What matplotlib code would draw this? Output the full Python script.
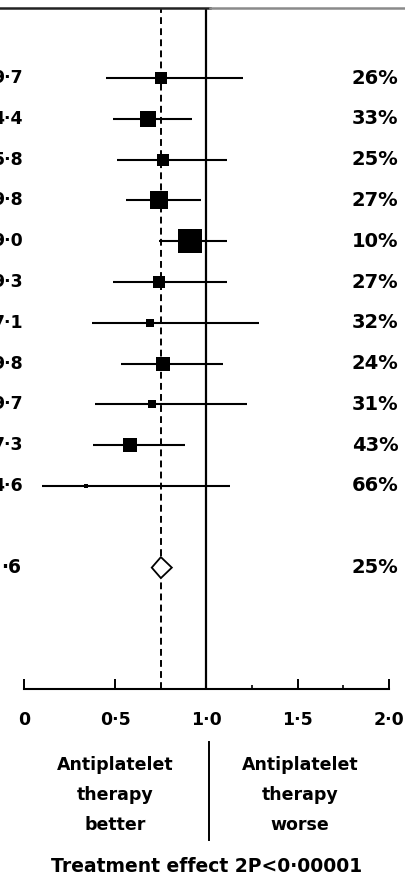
import matplotlib
matplotlib.use("Agg")
import matplotlib.pyplot as plt
from matplotlib.lines import Line2D
from matplotlib.patches import Polygon

# ---- data ----
left_labels = ["9·7", "4·4", "5·8", "9·8", "9·0", "9·3", "7·1", "9·8", "9·7", "7·3", "4·6"]
overall_left = "·6"
estimates = [0.75, 0.68, 0.76, 0.74, 0.91, 0.74, 0.69, 0.76, 0.70, 0.58, 0.34]
ci_low = [0.45, 0.49, 0.51, 0.56, 0.74, 0.49, 0.37, 0.53, 0.39, 0.38, 0.10]
ci_high = [1.20, 0.92, 1.11, 0.97, 1.11, 1.11, 1.29, 1.09, 1.22, 0.88, 1.13]
weights = [12, 16, 12, 18, 24, 13, 9, 15, 9, 14, 5]
reductions = ["26%", "33%", "25%", "27%", "10%", "27%", "32%", "24%", "31%", "43%", "66%"]
overall_est = 0.75
overall_low = 0.70
overall_high = 0.81
overall_red = "25%"
xticks = [0, 0.5, 1.0, 1.5, 2.0]
xticklabels = ["0", "0·5", "1·0", "1·5", "2·0"]
minor_ticks = [1.25, 1.75]
left_caption = ["Antiplatelet", "therapy", "better"]
right_caption = ["Antiplatelet", "therapy", "worse"]
footer = "Treatment effect 2P<0·00001"

W, H = 406, 877
fig = plt.figure(figsize=(W / 100, H / 100), dpi=100)
fig.patch.set_facecolor("white")

ax_l, ax_r = 24 / W, 389 / W
ax_top_px, ax_bot_px = 8, 689
ax = fig.add_axes([ax_l, 1 - ax_bot_px / H, ax_r - ax_l, (ax_bot_px - ax_top_px) / H])
ax.set_facecolor("none")

row0_px, step_px = 78, 40.8
ylo = (ax_top_px - row0_px) / step_px + 1
yhi = (ax_bot_px - row0_px) / step_px + 1
ax.set_xlim(0, 2)
ax.set_ylim(yhi, ylo)

rows = list(range(1, len(estimates) + 1))
overall_row = len(estimates) + 2

FONT = "DejaVu Sans"

# reference lines
ax.axvline(1.0, color="black", lw=1.6, zorder=1)
ax.axvline(overall_est, color="black", lw=1.4, ls=(0, (3.5, 2.2)), zorder=1)

for y, e, lo, hi, w in zip(rows, estimates, ci_low, ci_high, weights):
    ax.plot([lo, hi], [y, y], color="black", lw=1.5, solid_capstyle="butt", zorder=2)
    ax.plot([e], [y], marker="s", color="black", markersize=w / 1.389,
            markeredgewidth=0, zorder=3)

# overall diamond
dh = 10.5 / step_px
diamond = Polygon([[overall_low, overall_row], [overall_est, overall_row - dh],
                   [overall_high, overall_row], [overall_est, overall_row + dh]],
                  closed=True, facecolor="white", edgecolor="black", lw=1.3, zorder=3)
ax.add_patch(diamond)

# axes styling
for s in ["top", "left", "right"]:
    ax.spines[s].set_visible(False)
ax.spines["bottom"].set_linewidth(1.5)
ax.set_yticks([])
ax.set_xticks(xticks)
ax.set_xticklabels(xticklabels, fontsize=12.5, family=FONT, fontweight="bold")
ax.set_xticks(minor_ticks, minor=True)
ax.tick_params(axis="x", which="major", direction="in", length=7, width=1.4, pad=16)
ax.tick_params(axis="x", which="minor", direction="in", length=3, width=1.2)

# side texts
xr = (352 - 24) / 365 * 2
for y, lab, red in zip(rows, left_labels, reductions):
    ax.text(-0.005, y, lab, ha="right", va="center", fontsize=12.5,
            family=FONT, fontweight="bold", clip_on=False)
    ax.text(xr, y, red, ha="left", va="center", fontsize=14,
            family=FONT, fontweight="bold", clip_on=False)
ax.text(-0.015, overall_row, overall_left, ha="right", va="center", fontsize=13.5,
        family=FONT, fontweight="bold", clip_on=False)
ax.text(xr, overall_row, overall_red, ha="left", va="center",
        fontsize=14, family=FONT, fontweight="bold", clip_on=False)

# top rule
ty = 1 - 8 / H
fig.add_artist(Line2D([0, 210 / W], [ty, ty], color="#222222", lw=1.8))
fig.add_artist(Line2D([210 / W, 1], [ty, ty], color="#8a8a8a", lw=1.8))

# bottom labels
for i, (lt, rt) in enumerate(zip(left_caption, right_caption)):
    yy = 1 - (765 + 30 * i) / H
    fig.text(115 / W, yy, lt, ha="center", va="center", fontsize=12.5,
             fontweight="bold", family=FONT)
    fig.text(300 / W, yy, rt, ha="center", va="center", fontsize=12.5,
             fontweight="bold", family=FONT)
fig.add_artist(Line2D([209 / W, 209 / W], [1 - 742 / H, 1 - 840 / H], color="black", lw=1.4))
fig.text(207 / W, 1 - 866 / H, footer, ha="center", va="center",
         fontsize=13.5, fontweight="bold", family=FONT)

fig.savefig("out.png", dpi=100, facecolor="white")
